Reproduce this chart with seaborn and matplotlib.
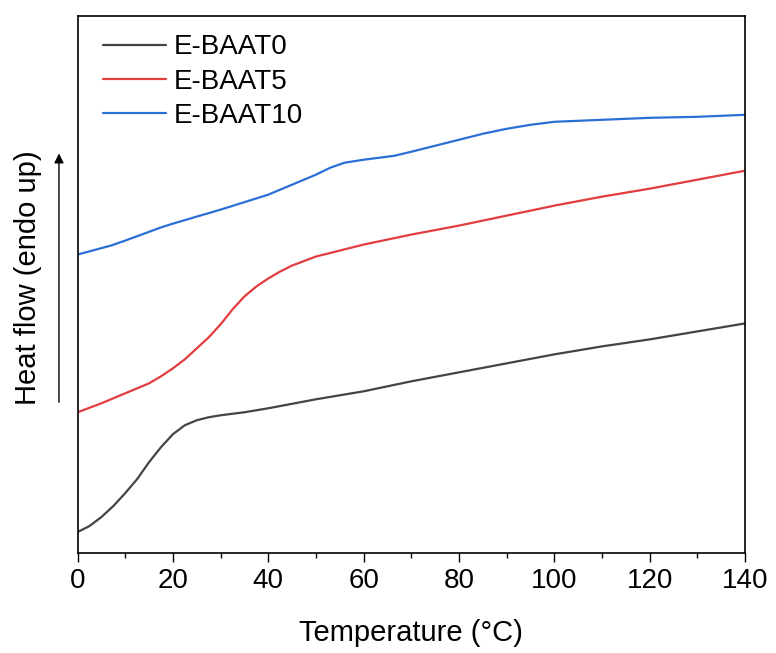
import numpy as np
import pandas as pd
import matplotlib
matplotlib.use("Agg")
import matplotlib.pyplot as plt
import seaborn as sns
from matplotlib.ticker import MultipleLocator

sns.set_style("white")
plt.rcParams['font.family'] = ['Liberation Sans', 'DejaVu Sans']
plt.rcParams['text.color'] = 'black'
plt.rcParams['axes.labelcolor'] = 'black'
plt.rcParams['xtick.color'] = 'black'

# ---- data (heat flow in arbitrary units) ----
temp_baat0 = [0, 2.5, 5, 7.5, 10, 12.5, 15, 17.5, 20, 22.5, 25, 27.5, 30, 35, 40,
              50, 60, 70, 80, 90, 100, 110, 120, 130, 140]
flow_baat0 = [21, 27, 36, 47, 60, 74, 91, 106, 119, 128, 133, 136, 138, 141, 145,
              154, 162, 172, 181, 190, 199, 207, 214, 222, 230]

temp_baat5 = [0, 5, 10, 15, 17.5, 20, 22.5, 25, 27.5, 30, 32.5, 35, 37.5, 40, 42.5, 45,
              50, 55, 60, 70, 80, 90, 100, 110, 120, 130, 140]
flow_baat5 = [141, 150, 160, 170, 177, 185, 194, 205, 216, 229, 244, 257, 267, 275, 282, 288,
              297, 303, 309, 319, 328, 338, 348, 357, 365, 374, 383]

temp_baat10 = [0, 7, 10, 17.4, 20, 30, 40, 45, 50, 53, 56, 60, 66.5, 70, 75, 80,
               85, 90, 95, 100, 110, 120, 130, 140]
flow_baat10 = [299, 308, 313, 326, 330, 344, 359, 369, 379, 386, 391, 394, 398, 402,
               408, 414, 420, 425, 429, 432, 434, 436, 437, 439]

labels = ["E-BAAT0", "E-BAAT5", "E-BAAT10"]
colors = ["#444444", "#e23d3f", "#2a6fd6"]

fig = plt.figure(figsize=(7.76, 6.53), dpi=100)
ax = fig.add_axes([0.0999, 0.1531, 0.8601, 0.8224])

for t, f, lab, c in zip([temp_baat0, temp_baat5, temp_baat10],
                        [flow_baat0, flow_baat5, flow_baat10], labels, colors):
    df = pd.DataFrame({"T": t, "HF": f})
    sns.lineplot(data=df, x="T", y="HF", ax=ax, color=c, lw=1.6, label=lab,
                 sort=False, estimator=None)

ax.set_xlim(0, 140)
ax.set_ylim(0, 538)
ax.xaxis.set_major_locator(MultipleLocator(20))
ax.xaxis.set_minor_locator(MultipleLocator(10))
ax.set_yticks([])
ax.tick_params(axis='x', which='major', direction='out', length=6.5, width=1.0,
               labelsize=20, pad=4, bottom=True, top=False, colors='black')
ax.tick_params(axis='x', which='minor', direction='out', length=3.5, width=1.0,
               bottom=True, top=False, colors='black')
for s in ax.spines.values():
    s.set_linewidth(1.2)
    s.set_color('black')

ax.set_xlabel("Temperature (°C)", fontsize=21, labelpad=18, color='black')
ax.set_ylabel("")

fig.text(0.036, 0.574, "Heat flow (endo up)", rotation=90, fontsize=21,
         ha='center', va='center', color='black')
ax.annotate("", xy=(0.076, 0.765), xycoords='figure fraction',
            xytext=(0.076, 0.384), textcoords='figure fraction',
            arrowprops=dict(arrowstyle='-|>', color='black', lw=1.0,
                            mutation_scale=14, shrinkA=0, shrinkB=0))

leg = ax.legend(loc='upper left', bbox_to_anchor=(0.0125, 0.997), frameon=False,
                fontsize=20, handlelength=2.3, handletextpad=0.25,
                labelspacing=0.3, borderaxespad=0.2)
for txt in leg.get_texts():
    txt.set_color('black')

fig.savefig("out.png", dpi=100)
